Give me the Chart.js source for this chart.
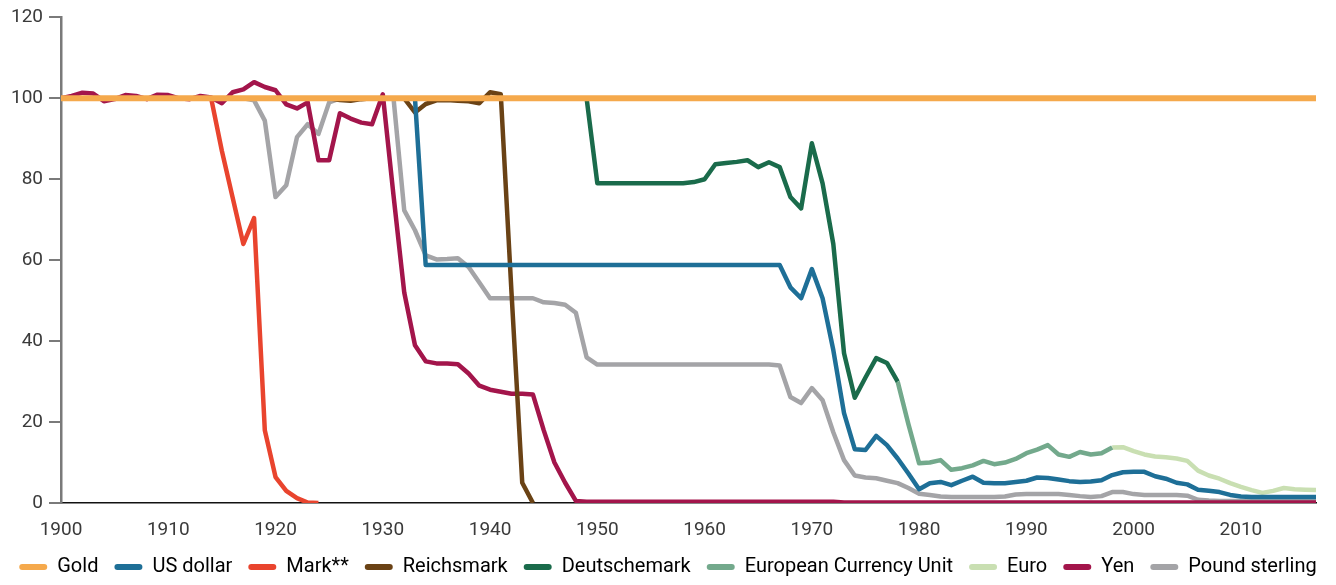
<!DOCTYPE html>
<html>
<head>
<meta charset="utf-8">
<script src="https://cdn.jsdelivr.net/npm/chart.js@4.4.1/dist/chart.umd.min.js"></script>
<style>
    html, body { margin: 0; padding: 0; background: #fff; }
    #wrap { width: 1336px; height: 585px; }
</style>
</head>
<body>
<div id="wrap"><canvas id="chartMonnaies"></canvas></div>
<script>
// valeurs (indice 100 = or), une valeur par année
const goldStart = 1900;
const gold = [
    100, 100, 100, 100, 100, 100, 100, 100, 100, 100,
    100, 100, 100, 100, 100, 100, 100, 100, 100, 100,
    100, 100, 100, 100, 100, 100, 100, 100, 100, 100,
    100, 100, 100, 100, 100, 100, 100, 100, 100, 100,
    100, 100, 100, 100, 100, 100, 100, 100, 100, 100,
    100, 100, 100, 100, 100, 100, 100, 100, 100, 100,
    100, 100, 100, 100, 100, 100, 100, 100, 100, 100,
    100, 100, 100, 100, 100, 100, 100, 100, 100, 100,
    100, 100, 100, 100, 100, 100, 100, 100, 100, 100,
    100, 100, 100, 100, 100, 100, 100, 100, 100, 100,
    100, 100, 100, 100, 100, 100, 100, 100, 100, 100,
    100, 100, 100, 100, 100, 100, 100, 100
];

const dollarStart = 1900;
const dollar = [
    100, 100, 100, 100, 100, 100, 100, 100, 100, 100,
    100, 100, 100, 100, 100, 100, 100, 100, 100, 100,
    100, 100, 100, 100, 100, 100, 100, 100, 100, 100,
    100, 100, 100, 100, 58.8, 58.8, 58.8, 58.8, 58.8, 58.8,
    58.8, 58.8, 58.8, 58.8, 58.8, 58.8, 58.8, 58.8, 58.8, 58.8,
    58.8, 58.8, 58.8, 58.8, 58.8, 58.8, 58.8, 58.8, 58.8, 58.8,
    58.8, 58.8, 58.8, 58.8, 58.8, 58.8, 58.8, 58.8, 53.3, 50.6,
    57.8, 50.6, 37.8, 22.2, 13.3, 13.1, 16.6, 14.3, 11, 7.3,
    3.4, 4.9, 5.2, 4.4, 5.5, 6.5, 5, 4.9, 4.9, 5.2,
    5.5, 6.3, 6.2, 5.8, 5.4, 5.2, 5.3, 5.6, 6.9, 7.6,
    7.7, 7.7, 6.6, 6, 5, 4.6, 3.3, 3, 2.7, 2,
    1.6, 1.5, 1.5, 1.5, 1.5, 1.5, 1.5, 1.5
];

const markStart = 1900;
const mark = [
    100, 100, 100, 100, 100, 100, 100, 100, 100, 100,
    100, 100, 100, 100, 100, 87, 75.5, 64, 70.4, 18,
    6.4, 3, 1.2, 0.1, 0
];

const reichsmarkStart = 1924;
const reichsmark = [
    100, 100, 99.6, 99.4, 99.8, 100,
    100, 100, 100, 96.5, 98.6, 99.5, 99.6, 99.4, 99.3, 98.8,
    101.5, 101, 52, 5, 0
];

const deutschemarkStart = 1949;
const deutschemark = [
    100,
    79, 79, 79, 79, 79, 79, 79, 79, 79, 79.3,
    80, 83.7, 84, 84.3, 84.7, 83, 84.2, 83, 75.6, 72.8,
    88.9, 79, 64, 37, 26, 31, 35.8, 34.6, 30
];

const ecuStart = 1978;
const ecu = [
    30, 19.5,
    9.8, 10, 10.6, 8.2, 8.6, 9.3, 10.4, 9.6, 10, 10.9,
    12.3, 13.2, 14.3, 12, 11.4, 12.6, 12, 12.3, 13.7
];

const euroStart = 1998;
const euro = [
    13.7, 13.8,
    12.8, 12, 11.5, 11.3, 11, 10.4, 8, 6.8, 6, 4.9,
    4, 3.2, 2.5, 3, 3.7, 3.4, 3.3, 3.2
];

const yenStart = 1900;
const yen = [
    100, 100.6, 101.4, 101.2, 99.3, 99.8, 100.8, 100.6, 99.8, 100.9,
    100.8, 100, 99.8, 100.6, 100.2, 98.8, 101.5, 102.2, 104, 102.8,
    102, 98.5, 97.5, 99, 84.7, 84.7, 96.3, 95, 94, 93.6,
    101, 76, 52, 39, 35, 34.5, 34.5, 34.3, 32, 29,
    28, 27.5, 27, 27, 26.8, 18, 10, 5, 0.5, 0.3,
    0.3, 0.3, 0.3, 0.3, 0.3, 0.3, 0.3, 0.3, 0.3, 0.3,
    0.3, 0.3, 0.3, 0.3, 0.3, 0.3, 0.3, 0.3, 0.3, 0.3,
    0.3, 0.3, 0.3, 0.1, 0.1, 0.1, 0.1, 0.1, 0.1, 0.1,
    0.1, 0.1, 0.1, 0.1, 0.1, 0.1, 0.1, 0.1, 0.1, 0.1,
    0.1, 0.1, 0.1, 0.1, 0.1, 0.1, 0.1, 0.1, 0.1, 0.1,
    0.1, 0.1, 0.1, 0.1, 0.1, 0.1, 0.1, 0.1, 0.1, 0.1,
    0.1, 0.1, 0.1, 0.1, 0.1, 0.1, 0.1, 0.1
];

const poundStart = 1900;
const pound = [
    100, 100, 100, 100, 100, 100, 100, 100, 100, 100,
    100, 100, 100, 100, 100, 100, 100, 100, 99.5, 94.5,
    75.6, 78.5, 90.4, 93.6, 91.2, 99, 100, 100, 100, 100,
    100, 100, 72.3, 67.4, 61.2, 60.2, 60.3, 60.5, 58.3, 54.5,
    50.6, 50.6, 50.6, 50.6, 50.6, 49.6, 49.4, 49, 47, 36,
    34.2, 34.2, 34.2, 34.2, 34.2, 34.2, 34.2, 34.2, 34.2, 34.2,
    34.2, 34.2, 34.2, 34.2, 34.2, 34.2, 34.2, 34, 26.2, 24.7,
    28.4, 25.4, 17.5, 10.6, 6.8, 6.3, 6.1, 5.5, 4.9, 3.7,
    2.3, 2, 1.6, 1.5, 1.5, 1.5, 1.5, 1.5, 1.6, 2.1,
    2.2, 2.2, 2.2, 2.2, 2, 1.7, 1.5, 1.7, 2.7, 2.7,
    2.2, 2, 2, 2, 2, 1.8, 0.8, 0.6, 0.5, 0.5,
    0.5, 0.5, 0.5, 0.5, 0.5, 0.5, 0.5, 0.5
];

const xTicks = [1900, 1910, 1920, 1930, 1940, 1950, 1960, 1970, 1980, 1990, 2000, 2010];
const yTicks = [0, 20, 40, 60, 80, 100, 120];

// une série = tableau de valeurs + année de départ
function points(start, values) {
    return values.map((v, i) => ({ x: start + i, y: v }));
}

function serie(label, color, start, values, width) {
    return {
        label: label,
        data: points(start, values),
        borderColor: color,
        backgroundColor: color,
        borderWidth: width || 4.5,
        pointRadius: 0,
        pointHoverRadius: 0,
        tension: 0,
        borderJoinStyle: "round",
        fill: false
    };
}

Chart.defaults.font.family = "Roboto, 'Liberation Sans', sans-serif";
Chart.defaults.color = "#3a3a3a";

new Chart(document.getElementById("chartMonnaies"), {
    type: "line",
    data: {
        datasets: [
            serie("Gold", "#f5a94c", goldStart, gold, 6),
            serie("US dollar", "#1e6f97", dollarStart, dollar),
            serie("Mark**", "#e9442e", markStart, mark),
            serie("Reichsmark", "#6a4215", reichsmarkStart, reichsmark),
            serie("Deutschemark", "#1a6b4b", deutschemarkStart, deutschemark),
            serie("European Currency Unit", "#73a98c", ecuStart, ecu),
            serie("Euro", "#c9dfb2", euroStart, euro),
            serie("Yen", "#a3154b", yenStart, yen),
            serie("Pound sterling", "#a4a4a7", poundStart, pound)
        ]
    },
    options: {
        responsive: true,
        maintainAspectRatio: false,
        animation: false,
        layout: { padding: { left: 0, right: 0, top: 16, bottom: -2 } },
        plugins: {
            tooltip: { enabled: false },
            legend: {
                position: "bottom",
                labels: {
                    font: { size: 20 },
                    color: "#3a3a3a",
                    boxWidth: 28,
                    boxHeight: 6,
                    padding: 16,
                    useBorderRadius: true,
                    borderRadius: 3,
                    generateLabels: (chart) => chart.data.datasets.map((ds, i) => ({
                        text: ds.label,
                        fillStyle: ds.borderColor,
                        strokeStyle: ds.borderColor,
                        lineWidth: 0,
                        borderRadius: 3,
                        hidden: false,
                        datasetIndex: i
                    }))
                }
            }
        },
        scales: {
            x: {
                type: "linear",
                min: 1900,
                max: 2017,
                afterFit: (scale) => { scale.height = 38; },
                afterBuildTicks: (scale) => { scale.ticks = xTicks.map(v => ({ value: v })); },
                grid: { display: false, drawTicks: false },
                border: { display: true, color: "#111", width: 1.5 },
                ticks: {
                    padding: 16,
                    font: { size: 19 },
                    color: "#3a3a3a",
                    maxRotation: 0,
                    autoSkip: false,
                    callback: (value) => String(value)
                }
            },
            y: {
                min: 0,
                max: 120,
                afterFit: (scale) => { scale.width = 61; },
                afterBuildTicks: (scale) => { scale.ticks = yTicks.map(v => ({ value: v })); },
                grid: {
                    drawOnChartArea: false,
                    drawTicks: true,
                    tickLength: 12,
                    color: "#7a7a7a",
                    lineWidth: 2
                },
                border: { display: true, color: "#7a7a7a", width: 2.5 },
                ticks: {
                    padding: 6,
                    font: { size: 19 },
                    color: "#3a3a3a",
                    callback: (value) => String(value)
                }
            },
            // axe vide à droite, seulement pour garder la marge
            marge: {
                type: "linear",
                position: "right",
                min: 0,
                max: 120,
                afterFit: (scale) => { scale.width = 20; },
                grid: { display: false, drawTicks: false },
                border: { display: false },
                ticks: { display: false }
            }
        }
    }
});
</script>
</body>
</html>
